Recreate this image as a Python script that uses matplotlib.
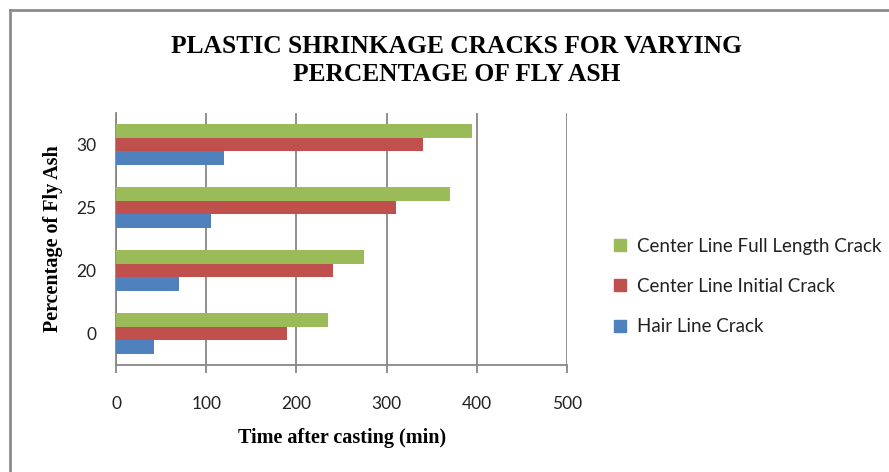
import numpy as np
import matplotlib.pyplot as plt
from matplotlib.lines import Line2D
from matplotlib.patches import Patch

# Fly ash content (%) and crack onset times (min)
fly_ash = ["0", "20", "25", "30"]
hair_line = [42, 70, 105, 120]
center_initial = [190, 240, 310, 340]
center_full = [235, 275, 370, 395]

BLUE = "#4F81BD"
RED = "#C0504D"
GREEN = "#9BBB59"
GRID = "#878787"

serif = ["Liberation Serif", "DejaVu Serif"]
sans = ["Lato", "DejaVu Sans"]

fig = plt.figure(figsize=(8.89, 4.72), dpi=100)
ax = fig.add_axes([0.1305, 0.2267, 0.5075, 0.534])

y = np.arange(len(fly_ash))
h = 0.22
ax.barh(y - h, hair_line, height=h, color=BLUE, label="Hair Line Crack", zorder=3)
ax.barh(y, center_initial, height=h, color=RED, label="Center Line Initial Crack", zorder=3)
ax.barh(y + h, center_full, height=h, color=GREEN, label="Center Line Full Length Crack", zorder=3)

ax.set_xlim(0, 500)
ax.set_ylim(-0.5, 3.5)
ax.set_xticks(np.arange(0, 501, 100))
ax.set_yticks(y)
ax.set_yticklabels(fly_ash)
ax.xaxis.grid(True, color=GRID, linewidth=1.3, zorder=0)

for side in ("top", "right"):
    ax.spines[side].set_visible(False)
for side in ("left", "bottom"):
    ax.spines[side].set_color(GRID)
    ax.spines[side].set_linewidth(1.3)

ax.tick_params(axis="x", direction="out", length=6, width=1.3, color=GRID, pad=16)
ax.tick_params(axis="y", length=0, pad=14)
for lbl in ax.get_xticklabels() + ax.get_yticklabels():
    lbl.set_family(sans)
    lbl.set_fontsize(12.5)
    lbl.set_color("#222222")

ax.set_xlabel("Time after casting (min)", family=serif, fontweight="bold",
              fontsize=14.5, labelpad=12)
ax.set_ylabel("Percentage of Fly Ash", family=serif, fontweight="bold",
              fontsize=14.5, labelpad=10)

fig.text(0.514, 0.872, "PLASTIC SHRINKAGE CRACKS FOR VARYING\nPERCENTAGE OF FLY ASH",
         ha="center", va="center", family=serif, fontweight="bold",
         fontsize=18.4, linespacing=1.3)

handles = [Patch(color=GREEN), Patch(color=RED), Patch(color=BLUE)]
labels = ["Center Line Full Length Crack", "Center Line Initial Crack", "Hair Line Crack"]
leg = fig.legend(handles, labels, loc="center left", bbox_to_anchor=(0.672, 0.393),
                 frameon=False, handlelength=0.6, handleheight=0.6, handletextpad=0.6,
                 labelspacing=1.25, prop={"family": sans, "size": 13.5})
for t in leg.get_texts():
    t.set_color("#222222")

# outer chart frame (top and left edges)
fig.add_artist(Line2D([0.011, 0.011], [0, 0.979], transform=fig.transFigure,
                      color="#8c8c8c", linewidth=2))
fig.add_artist(Line2D([0.011, 1.0], [0.979, 0.979], transform=fig.transFigure,
                      color="#8c8c8c", linewidth=2))

fig.savefig("out.png", dpi=100)
